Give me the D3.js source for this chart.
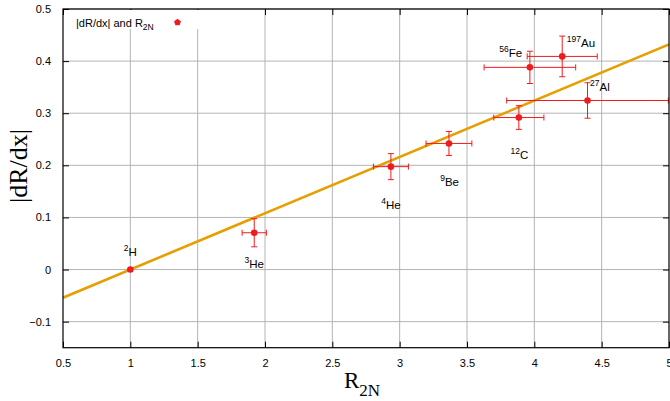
<!DOCTYPE html>
<html><head><meta charset="utf-8">
<script src="https://cdn.jsdelivr.net/npm/d3@7"></script>
<style>body{margin:0;background:#fff}svg{display:block}</style>
</head><body>
<svg id="c" width="670" height="401"></svg>
<script>
const nuclei = ["2H","3He","4He","9Be","12C","56Fe","197Au","27Al"];
const massNum = ["2","3","4","9","12","56","197","27"];
const symbols = ["H","He","He","Be","C","Fe","Au","Al"];
const r2n = [1.0, 1.92, 2.935, 3.366, 3.885, 3.967, 4.207, 4.395];
const r2nErr = [0.0, 0.09, 0.13, 0.17, 0.186, 0.34, 0.26, 0.6];
const slope = [0.0, 0.0706, 0.1975, 0.242, 0.2917, 0.388, 0.409, 0.3244];
const slopeErr = [0.0, 0.027, 0.025, 0.023, 0.0227, 0.031, 0.039, 0.034];
const labelDx = [0, 0.0, 0.0, 0.005, 0.004, -0.143, 0.139, 0.092];
const labelDy = [0.026, -0.067, -0.081, -0.081, -0.079, 0.020, 0.019, 0.019];
const fitSlope = 0.108, fitX0 = 1.0;
const xTicks = [0.5,1,1.5,2,2.5,3,3.5,4,4.5,5];
const yTicks = [-0.1,0,0.1,0.2,0.3,0.4,0.5];
const legendText = "|dR/dx| and R";

const svg = d3.select("#c");
const L=63, R=669, T=9, B=347.7;
const x = d3.scaleLinear().domain([0.5,5]).range([L,R]);
const y = d3.scaleLinear().domain([-0.15,0.5]).range([B,T]);

svg.append("defs").append("clipPath").attr("id","clip")
  .append("rect").attr("x",L).attr("y",T).attr("width",R-L).attr("height",B-T);

// grid
const g = svg.append("g");
g.selectAll(".gx").data(xTicks.slice(1,-1)).join("line")
  .attr("x1",d=>x(d)).attr("x2",d=>x(d)).attr("y1",T).attr("y2",B)
  .attr("stroke","#b4b4b4").attr("stroke-width",1);
g.selectAll(".gy").data(yTicks).join("line")
  .attr("y1",d=>y(d)).attr("y2",d=>y(d)).attr("x1",L).attr("x2",R)
  .attr("stroke","#b4b4b4").attr("stroke-width",1);

// axes ticks (inward, on all sides)
const ax = svg.append("g").attr("transform",`translate(0,${B})`)
  .call(d3.axisBottom(x).tickValues(xTicks).tickSize(-6).tickPadding(12).tickFormat(d3.format("")));
const axT = svg.append("g").attr("transform",`translate(0,${T})`)
  .call(d3.axisTop(x).tickValues(xTicks).tickSize(-6).tickFormat(""));
const ay = svg.append("g").attr("transform",`translate(${L},0)`)
  .call(d3.axisLeft(y).tickValues(yTicks).tickSize(-6).tickPadding(12).tickFormat(d3.format("")));
const ayR = svg.append("g").attr("transform",`translate(${R},0)`)
  .call(d3.axisRight(y).tickValues(yTicks).tickSize(-6).tickFormat(""));
[ax,axT,ay,ayR].forEach(a=>{
  a.select(".domain").remove();
  a.selectAll("line").attr("stroke","#000");
  a.selectAll("text").attr("font-family","Liberation Sans, Arial, sans-serif").attr("font-size",11).attr("fill","#000");
});

// legend background
svg.append("rect").attr("x",L+1).attr("y",T+1).attr("width",135).attr("height",19).attr("fill","#fff");

// fit line
const plot = svg.append("g").attr("clip-path","url(#clip)");
plot.append("line")
  .attr("x1",x(0.5)).attr("y1",y(fitSlope*(0.5-fitX0)))
  .attr("x2",x(5)).attr("y2",y(fitSlope*(5-fitX0)))
  .attr("stroke","#e69f00").attr("stroke-width",2.6);

// error bars
const red="#ee1c1c";
const idx = d3.range(r2n.length);
const eb = plot.append("g").attr("stroke",red).attr("stroke-width",1);
idx.forEach(i=>{
  if (r2nErr[i]>0){
    eb.append("line").attr("x1",x(r2n[i]-r2nErr[i])).attr("x2",x(r2n[i]+r2nErr[i])).attr("y1",y(slope[i])).attr("y2",y(slope[i]));
    [r2n[i]-r2nErr[i], r2n[i]+r2nErr[i]].forEach(v=>{
      eb.append("line").attr("x1",x(v)).attr("x2",x(v)).attr("y1",y(slope[i])-3).attr("y2",y(slope[i])+3);
    });
  }
  if (slopeErr[i]>0){
    eb.append("line").attr("x1",x(r2n[i])).attr("x2",x(r2n[i])).attr("y1",y(slope[i]-slopeErr[i])).attr("y2",y(slope[i]+slopeErr[i]));
    [slope[i]-slopeErr[i], slope[i]+slopeErr[i]].forEach(v=>{
      eb.append("line").attr("x1",x(r2n[i])-3).attr("x2",x(r2n[i])+3).attr("y1",y(v)).attr("y2",y(v));
    });
  }
});
plot.selectAll(".pt").data(idx).join("circle")
  .attr("cx",i=>x(r2n[i])).attr("cy",i=>y(slope[i])).attr("r",3.3).attr("fill",red);

// frame
svg.append("rect").attr("x",L).attr("y",T).attr("width",R-L).attr("height",B-T)
  .attr("fill","none").attr("stroke","#000").attr("stroke-width",1.2);

// labels
const lab = svg.append("g").attr("font-family","Liberation Sans, Arial, sans-serif").attr("fill","#000");
idx.forEach(i=>{
  const t = lab.append("text").attr("x",x(r2n[i]+labelDx[i])).attr("y",y(slope[i]+labelDy[i]))
    .attr("text-anchor","middle").attr("font-size",11.5);
  t.append("tspan").attr("font-size",8.5).attr("dy",-4.5).text(massNum[i]);
  t.append("tspan").attr("dy",4.5).text(symbols[i]);
});

// legend
const lt = svg.append("text").attr("x",76).attr("y",26.5).attr("font-family","Liberation Sans, Arial, sans-serif").attr("font-size",11).attr("fill","#000");
lt.append("tspan").text(legendText);
lt.append("tspan").attr("font-size",8.5).attr("dy",3).text("2N");
const pent = d3.range(5).map(k=>{const a=-Math.PI/2+k*2*Math.PI/5;return [177.5+3.6*Math.cos(a),22.3+3.6*Math.sin(a)];});
svg.append("polygon").attr("points",pent.map(p=>p.join(",")).join(" ")).attr("fill",red);

// axis titles
const xt = svg.append("text").attr("x",344).attr("y",388).attr("font-family","Liberation Serif, Times New Roman, serif").attr("font-size",23).attr("fill","#000");
xt.append("tspan").text("R");
xt.append("tspan").attr("font-size",17).attr("dy",8).text("2N");
svg.append("text").attr("transform","translate(27,166) rotate(-90)").attr("text-anchor","middle")
  .attr("font-family","Liberation Serif, Times New Roman, serif").attr("font-size",26).attr("fill","#000").text("|dR/dx|");
</script>
</body></html>
